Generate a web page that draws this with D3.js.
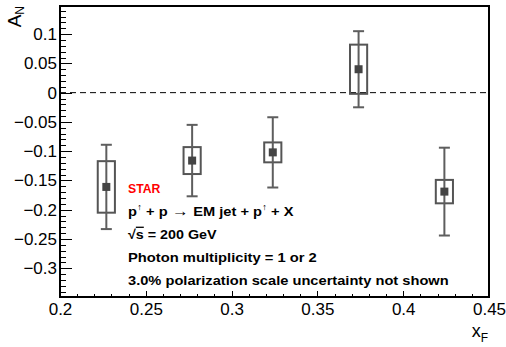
<!DOCTYPE html>
<html>
<head>
<meta charset="utf-8">
<script src="https://cdn.jsdelivr.net/npm/d3@7"></script>
<style>
  body { margin: 0; background: #fff; }
  svg { display: block; font-family: "Liberation Sans", Arial, sans-serif; }
</style>
</head>
<body>
<div id="chart"></div>
<script>
// A_N vs x_F, EM jets, photon multiplicity 1 or 2
var xF = [0.227, 0.277, 0.324, 0.374, 0.424];
var aN = [-0.161, -0.116, -0.102, 0.040, -0.169];
var statErr = [0.072, 0.061, 0.060, 0.065, 0.075];
var sysErr = [0.044, 0.023, 0.017, 0.042, 0.020];
var xTickLabels = [0.2, 0.25, 0.3, 0.35, 0.4, 0.45];
var yTickLabels = [-0.3, -0.25, -0.2, -0.15, -0.1, -0.05, 0, 0.05, 0.1];

var W = 506, H = 347;
var mL = 60, mR = 489, mT = 6, mB = 297;

var svg = d3.select("#chart").append("svg")
    .attr("width", W).attr("height", H);

var x = d3.scaleLinear().domain([0.2, 0.45]).range([mL, mR]);
var y = d3.scaleLinear().domain([-0.349, 0.148]).range([mB, mT]);

var fmt = d3.format("~g");

// minor ticks every 0.01
var xMinor = d3.range(20, 46).map(function (d) { return d / 100; });
var yMinor = d3.range(-34, 15).map(function (d) { return d / 100; });

svg.append("g")
    .attr("transform", "translate(0," + mB + ")")
    .call(d3.axisBottom(x).tickValues(xMinor).tickSize(-3).tickFormat(""))
    .call(function (g) { g.select(".domain").remove(); });

svg.append("g")
    .attr("transform", "translate(0," + mB + ")")
    .call(d3.axisBottom(x).tickValues(xTickLabels).tickSize(-6).tickPadding(6).tickFormat(fmt))
    .call(function (g) {
        g.select(".domain").remove();
        g.selectAll("text").attr("font-size", 17).attr("fill", "#000")
            .attr("font-family", "Liberation Sans, Arial, sans-serif");
    });

svg.append("g")
    .attr("transform", "translate(" + mL + ",0)")
    .call(d3.axisLeft(y).tickValues(yMinor).tickSize(-6).tickFormat(""))
    .call(function (g) { g.select(".domain").remove(); });

svg.append("g")
    .attr("transform", "translate(" + mL + ",0)")
    .call(d3.axisLeft(y).tickValues(yTickLabels).tickSize(-12).tickPadding(3).tickFormat(fmt))
    .call(function (g) {
        g.select(".domain").remove();
        g.selectAll("text").attr("font-size", 17).attr("fill", "#000")
            .attr("font-family", "Liberation Sans, Arial, sans-serif");
    });

svg.selectAll(".tick line").attr("stroke", "#000").attr("shape-rendering", "crispEdges");

// frame
svg.append("rect")
    .attr("x", mL).attr("y", mT)
    .attr("width", mR - mL).attr("height", mB - mT)
    .attr("fill", "none").attr("stroke", "#000").attr("stroke-width", 1.2)
    .attr("shape-rendering", "crispEdges");

// zero line
svg.append("line")
    .attr("x1", mL).attr("x2", mR)
    .attr("y1", y(0)).attr("y2", y(0))
    .attr("stroke", "#000").attr("stroke-dasharray", "6,4");

var pts = xF.map(function (d, i) {
    return { x: d, a: aN[i], s: statErr[i], sy: sysErr[i] };
});

// systematic boxes
svg.selectAll("rect.sys").data(pts).enter().append("rect")
    .attr("class", "sys")
    .attr("x", function (d) { return x(d.x - 0.005); })
    .attr("width", function (d) { return x(d.x + 0.005) - x(d.x - 0.005); })
    .attr("y", function (d) { return y(d.a + d.sy); })
    .attr("height", function (d) { return y(d.a - d.sy) - y(d.a + d.sy); })
    .attr("fill", "none").attr("stroke", "#555").attr("stroke-width", 2);

// stat error bars
var eb = svg.selectAll("g.err").data(pts).enter().append("g").attr("class", "err")
    .attr("stroke", "#5e5e5e").attr("stroke-width", 2);
eb.append("line")
    .attr("x1", function (d) { return x(d.x); }).attr("x2", function (d) { return x(d.x); })
    .attr("y1", function (d) { return y(d.a + d.s); })
    .attr("y2", function (d) { return y(d.a - d.s); });
eb.append("line")
    .attr("x1", function (d) { return x(d.x) - 5.5; }).attr("x2", function (d) { return x(d.x) + 5.5; })
    .attr("y1", function (d) { return y(d.a + d.s); }).attr("y2", function (d) { return y(d.a + d.s); });
eb.append("line")
    .attr("x1", function (d) { return x(d.x) - 5.5; }).attr("x2", function (d) { return x(d.x) + 5.5; })
    .attr("y1", function (d) { return y(d.a - d.s); }).attr("y2", function (d) { return y(d.a - d.s); });

// markers
svg.selectAll("rect.mk").data(pts).enter().append("rect")
    .attr("class", "mk")
    .attr("x", function (d) { return x(d.x) - 4; })
    .attr("y", function (d) { return y(d.a) - 4; })
    .attr("width", 8).attr("height", 8)
    .attr("fill", "#444");

// axis titles
var yt = svg.append("text")
    .attr("transform", "translate(21,6) rotate(-90)")
    .attr("text-anchor", "end").attr("font-size", 19);
yt.append("tspan").text("A");
yt.append("tspan").attr("font-size", 12).attr("dy", 3).text("N");

var xt = svg.append("text")
    .attr("x", 488).attr("y", 337)
    .attr("text-anchor", "end").attr("font-size", 18);
xt.append("tspan").text("x");
xt.append("tspan").attr("font-size", 12).attr("dy", 5).text("F");

// annotations
var tx = 128;
var lab = svg.append("g").attr("font-size", 13).attr("font-weight", "bold");

// stretch a text line horizontally to the width it has in the figure
function fitWidth(sel, w) {
    var bw = sel.node().getBBox().width;
    var k = w / bw;
    sel.attr("transform", "translate(" + tx + ",0) scale(" + k + ",1) translate(" + (-tx) + ",0)");
}

var l1 = lab.append("text").attr("x", tx).attr("y", 193).attr("fill", "#ff0000").text("STAR");
fitWidth(l1, 33);

var l2 = lab.append("text").attr("x", tx).attr("y", 216);
l2.append("tspan").text("p");
l2.append("tspan").attr("font-size", 9).attr("font-weight", "normal").attr("dy", -6).text("\u2191");
l2.append("tspan").attr("dy", 6).text(" + p ");
l2.append("tspan").attr("font-weight", "normal").attr("font-size", 15).text(" \u2192 ");
l2.append("tspan").text("EM jet + p");
l2.append("tspan").attr("font-size", 9).attr("font-weight", "normal").attr("dy", -6).text("\u2191");
l2.append("tspan").attr("dy", 6).text(" + X");
fitWidth(l2, 166);

var l3 = lab.append("text").attr("x", tx).attr("y", 239);
l3.append("tspan").text("\u221A");
l3.append("tspan").attr("text-decoration", "overline").text("s");
l3.append("tspan").text(" = 200 GeV");
fitWidth(l3, 89);

var l4 = lab.append("text").attr("x", tx).attr("y", 262).text("Photon multiplicity = 1 or 2");
fitWidth(l4, 189);
var l5 = lab.append("text").attr("x", tx).attr("y", 285).text("3.0% polarization scale uncertainty not shown");
fitWidth(l5, 321);
</script>
</body>
</html>
